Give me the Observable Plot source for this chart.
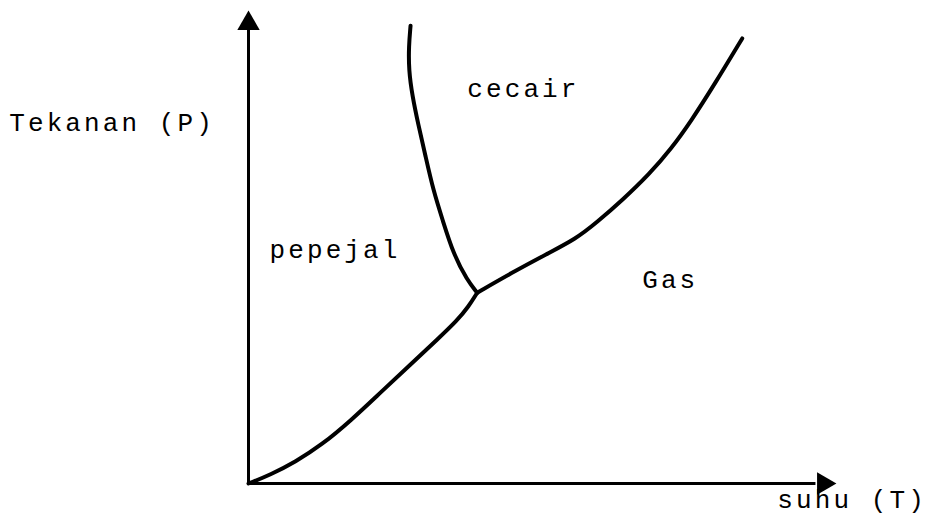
<!DOCTYPE html>
<html>
<head>
<meta charset="utf-8">
<script src="https://cdn.jsdelivr.net/npm/d3@7"></script>
<script src="https://cdn.jsdelivr.net/npm/@observablehq/plot@0.6"></script>
<style>
  html, body { margin: 0; padding: 0; background: #fff; }
  #chart { width: 927px; height: 515px; }
</style>
</head>
<body>
<div id="chart"></div>
<script>
// Phase diagram (arbitrary units: suhu T 0..100, tekanan P 0..100)
const sublimationT = [0, 3.8, 8.0, 12.5, 17.5, 22.6, 27.7, 32.5, 35.6, 37.6, 39.1];
const sublimationP = [0, 1.9, 4.6, 8.2, 13.4, 19.4, 25.3, 30.9, 34.6, 37.6, 40.6];

const fusionT = [39.1, 37.4, 35.0, 33.2, 31.6, 30.2, 29.0, 28.0, 27.4, 27.4, 27.7];
const fusionP = [40.6, 43.2, 48.9, 56.0, 62.3, 70.0, 76.5, 82.5, 88.0, 93.0, 97.4];

const vaporT = [39.1, 44.8, 51.1, 55.9, 59.5, 64.0, 68.5, 72.3, 75.6, 79.7, 84.4];
const vaporP = [40.6, 44.7, 48.9, 52.0, 55.5, 60.4, 65.8, 71.3, 77.0, 85.0, 94.7];

const labelText = ["Tekanan (P)", "cecair", "pepejal", "Gas", "suhu (T)"];
const labelT = [-40.9, 37.4, 3.6, 67.3, 90.4];
const labelP = [76.8, 84.0, 49.8, 43.4, -3.4];

const axisMax = 100;

const toRows = (ts, ps) => ts.map((t, i) => ({T: t, P: ps[i]}));
const sublimation = toRows(sublimationT, sublimationP);
const fusion = toRows(fusionT, fusionP);
const vapor = toRows(vaporT, vaporP);
const labels = labelText.map((s, i) => ({text: s, T: labelT[i], P: labelP[i]}));

const lineOpts = {x: "T", y: "P", stroke: "black", strokeWidth: 4, curve: "basis", strokeLinecap: "round", strokeLinejoin: "round"};

const chart = Plot.plot({
  width: 927,
  height: 515,
  marginLeft: 248,
  marginRight: 94,
  marginTop: 13,
  marginBottom: 32,
  x: {domain: [0, axisMax], axis: null},
  y: {domain: [0, axisMax], axis: null},
  style: {background: "#fff", fontFamily: "Liberation Mono", letterSpacing: "3.1px", overflow: "visible"},
  marks: [
    Plot.ruleX([0], {y1: 0, y2: axisMax - 3, stroke: "black", strokeWidth: 3}),
    Plot.ruleY([0], {x1: 0, x2: axisMax - 3, stroke: "black", strokeWidth: 3}),
    Plot.dot([{T: 0, P: axisMax}], {x: "T", y: "P", symbol: "triangle", r: 8.3, fill: "black", stroke: "none", dy: 10}),
    Plot.dot([{T: axisMax, P: 0}], {x: "T", y: "P", symbol: "triangle", r: 8.3, fill: "black", stroke: "none", rotate: 90, dx: -10}),
    Plot.line(sublimation, lineOpts),
    Plot.line(fusion, lineOpts),
    Plot.line(vapor, lineOpts),
    Plot.text(labels, {x: "T", y: "P", text: "text", textAnchor: "start", lineAnchor: "middle", fontSize: 26, fill: "black", fontFamily: "Liberation Mono"})
  ]
});
document.getElementById("chart").appendChild(chart);
</script>
</body>
</html>
